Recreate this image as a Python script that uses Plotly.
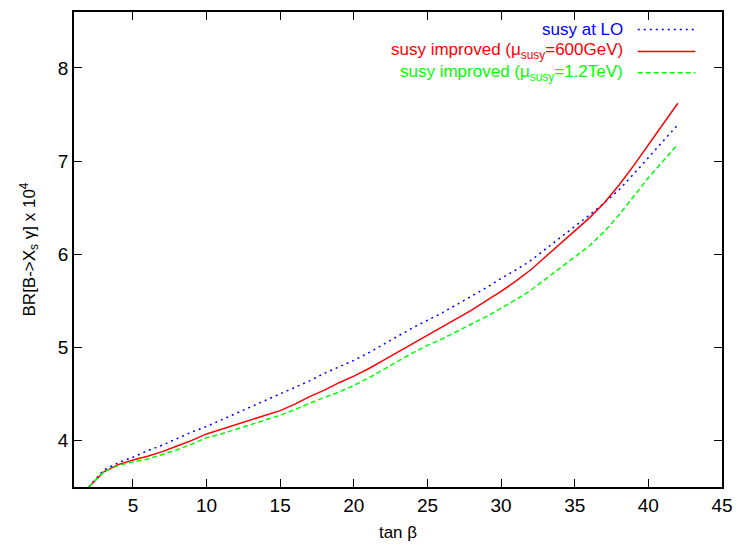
import plotly.graph_objects as go

tan_beta = list(range(2, 43))

br_lo = [3.50, 3.68, 3.76, 3.82, 3.89, 3.95, 4.02, 4.09, 4.15, 4.22,
         4.29, 4.36, 4.43, 4.50, 4.57, 4.64, 4.72, 4.79, 4.86, 4.94,
         5.03, 5.12, 5.21, 5.29, 5.37, 5.46, 5.55, 5.64, 5.74, 5.83,
         5.93, 6.05, 6.18, 6.30, 6.42, 6.55, 6.69, 6.86, 7.04, 7.21, 7.39]

br_600 = [3.50, 3.66, 3.74, 3.79, 3.83, 3.88, 3.94, 4.00, 4.07, 4.12,
          4.17, 4.22, 4.27, 4.32, 4.39, 4.47, 4.54, 4.62, 4.69, 4.77,
          4.86, 4.95, 5.04, 5.13, 5.22, 5.31, 5.40, 5.50, 5.60, 5.71,
          5.83, 5.97, 6.11, 6.25, 6.39, 6.55, 6.74, 6.95, 7.17, 7.39, 7.62]

br_1200 = [3.50, 3.66, 3.73, 3.77, 3.80, 3.85, 3.90, 3.96, 4.03, 4.07,
           4.12, 4.17, 4.22, 4.27, 4.33, 4.40, 4.46, 4.52, 4.59, 4.67,
           4.76, 4.85, 4.94, 5.02, 5.09, 5.17, 5.25, 5.33, 5.42, 5.51,
           5.61, 5.73, 5.85, 5.97, 6.09, 6.24, 6.42, 6.62, 6.82, 7.00, 7.18]

names = ["susy at LO",
         "susy improved (μ<sub>susy</sub>=600GeV)",
         "susy improved (μ<sub>susy</sub>=1.2TeV)"]
colors = ["#0000ff", "#ff0000", "#00ff00"]
dashes = ["2px,4px", "solid", "5px,3px"]
series = [br_lo, br_600, br_1200]

x_ticks = [5, 10, 15, 20, 25, 30, 35, 40, 45]
y_ticks = [4, 5, 6, 7, 8]

FONT = "Liberation Sans, Arial, sans-serif"

fig = go.Figure()
for name, ys, c, d in zip(names, series, colors, dashes):
    fig.add_trace(go.Scatter(x=tan_beta, y=ys, mode="lines", name=name,
                             line=dict(color=c, width=1.5, dash=d)))

# gnuplot-style legend: right-aligned text, line sample on the right
leg_y = [0.963, 0.917, 0.872]
for name, c, d, yy in zip(names, colors, dashes, leg_y):
    fig.add_annotation(xref="paper", yref="paper", x=0.851, y=yy,
                       text=name, showarrow=False, xanchor="right",
                       yanchor="middle", font=dict(color=c, size=17, family=FONT))
    fig.add_shape(type="line", xref="paper", yref="paper",
                  x0=0.870, x1=0.959, y0=yy, y1=yy,
                  line=dict(color=c, width=1.5, dash=d))

axis_common = dict(showline=True, linecolor="black", linewidth=1.5,
                   mirror="allticks", ticks="inside", ticklen=8,
                   tickcolor="black", tickwidth=1.2, showgrid=False,
                   zeroline=False, tickfont=dict(size=19, color="black", family=FONT))

fig.update_xaxes(range=[1, 45], tickvals=x_ticks,
                 title=dict(text="tan β", font=dict(size=17, color="black", family=FONT),
                            standoff=12),
                 **axis_common)
fig.update_yaxes(range=[3.5, 8.6], tickvals=y_ticks,
                 title=dict(text="BR[B->X<sub>s</sub> γ] x 10<sup>4</sup>",
                            font=dict(size=17, color="black", family=FONT),
                            standoff=18),
                 **axis_common)

fig.update_layout(width=743, height=550, showlegend=False,
                  plot_bgcolor="white", paper_bgcolor="white",
                  margin=dict(l=74, r=13, t=10, b=63),
                  font=dict(family=FONT, color="black"))

fig.write_html("out.html", config={"displayModeBar": False},
               post_script="document.body.style.margin='0';document.body.style.padding='0';")
